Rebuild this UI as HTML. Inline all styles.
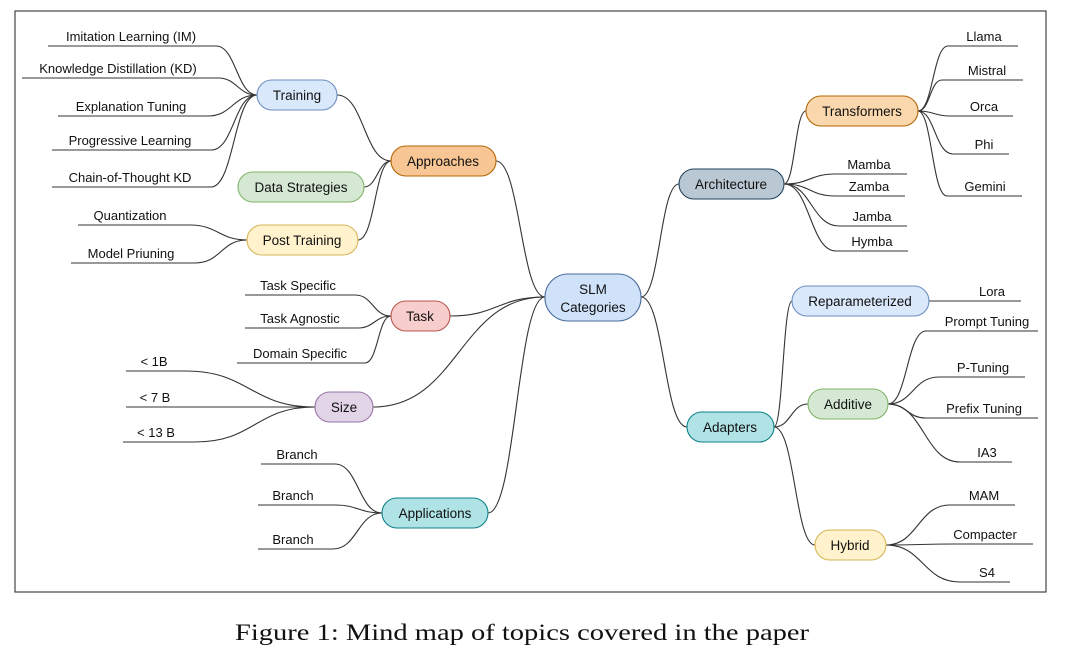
<!DOCTYPE html>
<html><head><meta charset="utf-8"><style>
html,body{margin:0;padding:0;background:#fff;}
svg{display:block;}
text{font-family:"Liberation Sans",Arial,sans-serif;font-size:13px;fill:#111;text-anchor:middle;}
.n{font-size:13.5px;}
path{fill:none;stroke:#333;stroke-width:1.1;}
rect{stroke-width:1.1;}
</style></head><body>
<svg width="1080" height="655" viewBox="0 0 1080 655" xmlns="http://www.w3.org/2000/svg">
<rect x="15" y="11" width="1031" height="581" fill="#fff" stroke="#333" stroke-width="1.3"/>
<g>
<path d="M48 46 H216 C236 46 237 95 257 95"/>
<path d="M22 78 H218 C237 78 238 95 257 95"/>
<path d="M58 116 H208 C232 116 233 95 257 95"/>
<path d="M52 150 H211 C234 150 234 95 257 95"/>
<path d="M52 187 H211 C234 187 234 95 257 95"/>
<path d="M78 225 H190 C218 225 219 240 247 240"/>
<path d="M71 263 H195 C221 263 221 240 247 240"/>
<path d="M245 295 H355 C373 295 373 316 391 316"/>
<path d="M245 328 H358 C374 328 375 316 391 316"/>
<path d="M237 363 H365 C378 363 378 316 391 316"/>
<path d="M126 371 H185 C250 371 250 407 315 407"/>
<path d="M126 407 H315"/>
<path d="M123 442 H195 C255 442 255 407 315 407"/>
<path d="M261 464 H335 C358 464 359 513 382 513"/>
<path d="M258 505 H335 C358 505 359 513 382 513"/>
<path d="M258 549 H333 C357 549 358 513 382 513"/>
<path d="M337 95 C364 95 364 161 391 161"/>
<path d="M364 187 C377 187 378 161 391 161"/>
<path d="M358 240 C375 240 375 161 391 161"/>
<path d="M496 161 C520 161 521 297 545 297"/>
<path d="M450 316 C497 316 498 297 545 297"/>
<path d="M373 407 C459 407 459 297 545 297"/>
<path d="M488 513 C516 513 517 297 545 297"/>
<path d="M641 297 C660 297 660 184 679 184"/>
<path d="M641 297 C664 297 664 427 687 427"/>
<path d="M784 184 C795 184 795 111 806 111"/>
<path d="M784 184 C810 184 810 174 835 174 H907"/>
<path d="M784 184 C810 184 810 196 835 196 H905"/>
<path d="M784 184 C811 184 812 226 839 226 H907"/>
<path d="M784 184 C810 184 810 251 836 251 H908"/>
<path d="M918 111 C933 111 933 46 948 46 H1018"/>
<path d="M918 111 C930 111 930 80 942 80 H1023"/>
<path d="M918 111 C934 111 934 116 950 116 H1013"/>
<path d="M918 111 C935 111 935 154 953 154 H1009"/>
<path d="M918 111 C932 111 932 196 947 196 H1022"/>
<path d="M774 427 C783 427 783 301 792 301"/>
<path d="M774 427 C791 427 791 404 808 404"/>
<path d="M774 427 C795 427 795 545 815 545"/>
<path d="M929 301 H1021"/>
<path d="M888 404 C907 404 907 331 926 331 H1038"/>
<path d="M888 404 C913 404 913 377 939 377 H1025"/>
<path d="M888 404 C907 404 907 418 926 418 H1038"/>
<path d="M888 404 C924 404 924 462 960 462 H1012"/>
<path d="M886 545 C918 545 918 505 950 505 H1015"/>
<path d="M886 545 C920 545 920 544 955 544 H1033"/>
<path d="M886 545 C923 545 923 582 960 582 H1010"/>
</g>
<g>
<rect x="257" y="80" width="80" height="30" rx="15" fill="#dae8fc" stroke="#6c8ebf"/>
<rect x="391" y="146" width="105" height="30" rx="15" fill="#f7c694" stroke="#b46504"/>
<rect x="238" y="172" width="126" height="30" rx="15" fill="#d5e8d4" stroke="#82b366"/>
<rect x="247" y="225" width="111" height="30" rx="15" fill="#fff2cc" stroke="#d6b656"/>
<rect x="391" y="301" width="59" height="30" rx="15" fill="#f8cecc" stroke="#b85450"/>
<rect x="545" y="274" width="96" height="47" rx="23" fill="#cfe2fa" stroke="#4a6c99"/>
<rect x="315" y="392" width="58" height="30" rx="15" fill="#e1d5e7" stroke="#9673a6"/>
<rect x="382" y="498" width="106" height="30" rx="15" fill="#b0e3e6" stroke="#0e8088"/>
<rect x="679" y="169" width="105" height="30" rx="15" fill="#bac8d3" stroke="#23445d"/>
<rect x="806" y="96" width="112" height="30" rx="15" fill="#fad7ac" stroke="#b46504"/>
<rect x="792" y="286" width="137" height="30" rx="15" fill="#dae8fc" stroke="#6c8ebf"/>
<rect x="687" y="412" width="87" height="30" rx="15" fill="#b0e3e6" stroke="#0e8088"/>
<rect x="808" y="389" width="80" height="30" rx="15" fill="#d5e8d4" stroke="#82b366"/>
<rect x="815" y="530" width="71" height="30" rx="15" fill="#fff2cc" stroke="#d6b656"/>
</g>
<g class="n">
<text class="n" x="297" y="100">Training</text>
<text class="n" x="443" y="166">Approaches</text>
<text class="n" x="301" y="192">Data Strategies</text>
<text class="n" x="302" y="245">Post Training</text>
<text class="n" x="420" y="321">Task</text>
<text class="n" x="593" y="294">SLM</text>
<text class="n" x="593" y="312">Categories</text>
<text class="n" x="344" y="412">Size</text>
<text class="n" x="435" y="518">Applications</text>
<text class="n" x="731" y="189">Architecture</text>
<text class="n" x="862" y="116">Transformers</text>
<text class="n" x="860" y="306">Reparameterized</text>
<text class="n" x="730" y="432">Adapters</text>
<text class="n" x="848" y="409">Additive</text>
<text class="n" x="850" y="550">Hybrid</text>
</g>
<g>
<text x="131" y="41">Imitation Learning (IM)</text>
<text x="118" y="73">Knowledge Distillation (KD)</text>
<text x="131" y="111">Explanation Tuning</text>
<text x="130" y="145">Progressive Learning</text>
<text x="130" y="182">Chain-of-Thought KD</text>
<text x="130" y="220">Quantization</text>
<text x="131" y="258">Model Priuning</text>
<text x="298" y="290">Task Specific</text>
<text x="300" y="323">Task Agnostic</text>
<text x="300" y="358">Domain Specific</text>
<text x="154" y="366">&lt; 1B</text>
<text x="155" y="402">&lt; 7 B</text>
<text x="156" y="437">&lt; 13 B</text>
<text x="297" y="459">Branch</text>
<text x="293" y="500">Branch</text>
<text x="293" y="544">Branch</text>
<text x="984" y="41">Llama</text>
<text x="987" y="75">Mistral</text>
<text x="984" y="111">Orca</text>
<text x="984" y="149">Phi</text>
<text x="985" y="191">Gemini</text>
<text x="869" y="169">Mamba</text>
<text x="869" y="191">Zamba</text>
<text x="872" y="221">Jamba</text>
<text x="872" y="246">Hymba</text>
<text x="992" y="296">Lora</text>
<text x="987" y="326">Prompt Tuning</text>
<text x="983" y="372">P-Tuning</text>
<text x="984" y="413">Prefix Tuning</text>
<text x="987" y="457">IA3</text>
<text x="984" y="500">MAM</text>
<text x="985" y="539">Compacter</text>
<text x="987" y="577">S4</text>
</g>
<text x="235" y="640" textLength="574" lengthAdjust="spacingAndGlyphs" style="font-family:'Liberation Serif',serif;font-size:23px;text-anchor:start;">Figure 1: Mind map of topics covered in the paper</text>
</svg>
</body></html>
